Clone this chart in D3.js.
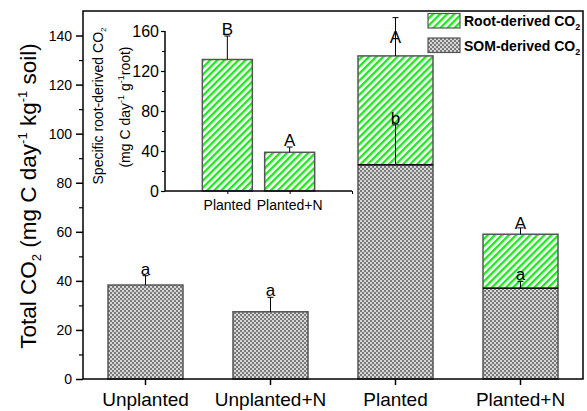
<!DOCTYPE html>
<html><head><meta charset="utf-8">
<script src="https://cdn.jsdelivr.net/npm/d3@7"></script>
<style>body{margin:0;background:#fff}svg{display:block}text{font-family:"Liberation Sans",Arial,sans-serif;fill:#000}</style>
</head><body><svg id="c" width="587" height="411"></svg>
<script>
// ---- main chart data ----
const categories = ["Unplanted", "Unplanted+N", "Planted", "Planted+N"];
const somValues = [38.3, 27.4, 87.3, 37.0];
const somErrors = [3.8, 5.9, 16.3, 2.8];
const rootValues = [0, 0, 44.4, 22.0];
const totalErrors = [0, 0, 15.6, 2.6];
const somLetters = ["a", "a", "b", "a"];
const rootLetters = ["", "", "A", "A"];
const rootLetterAt = [0, 0, 137, 61.3];
const yTicks = [0, 20, 40, 60, 80, 100, 120, 140];
// ---- inset data ----
const insetCategories = ["Planted", "Planted+N"];
const insetValues = [131.5, 38.7];
const insetErrors = [23.5, 5.3];
const insetLetters = ["B", "A"];
const insetTicks = [0, 40, 80, 120, 160];

const svg = d3.select("#c");
const defs = svg.append("defs");
const hp = defs.append("pattern").attr("id", "hatch").attr("patternUnits", "userSpaceOnUse")
  .attr("width", 5).attr("height", 5).attr("patternTransform", "rotate(45)");
hp.append("rect").attr("width", 5).attr("height", 5).attr("fill", "#fff");
hp.append("rect").attr("x", 0).attr("width", 2.4).attr("height", 5).attr("fill", "#1ee81e");
const sp = defs.append("pattern").attr("id", "som").attr("patternUnits", "userSpaceOnUse")
  .attr("width", 4).attr("height", 4);
sp.append("rect").attr("width", 4).attr("height", 4).attr("fill", "#7a7a7a");
[[1, 1], [3, 3]].forEach(([cx, cy]) => {
  sp.append("rect").attr("x", cx - 1).attr("y", cy - 0.45).attr("width", 2).attr("height", 0.9).attr("fill", "#fff");
  sp.append("rect").attr("x", cx - 0.45).attr("y", cy - 1).attr("width", 0.9).attr("height", 2).attr("fill", "#fff");
});

const L = 83, R = 583, T = 11, B = 379;
const x = d3.scaleBand().domain(categories).range([L, R]).paddingInner(0.4).paddingOuter(0.2);
const y = d3.scaleLinear().domain([0, 150]).range([B, T]);

// bars
const g = svg.append("g");
categories.forEach((c, i) => {
  const x0 = x(c), w = x.bandwidth();
  g.append("rect").attr("x", x0).attr("y", y(somValues[i])).attr("width", w)
    .attr("height", y(0) - y(somValues[i])).attr("fill", "url(#som)").attr("stroke", "#555").attr("stroke-width", 1.5);
  if (rootValues[i] > 0) {
    const top = somValues[i] + rootValues[i];
    g.append("rect").attr("x", x0).attr("y", y(top)).attr("width", w)
      .attr("height", y(somValues[i]) - y(top)).attr("fill", "url(#hatch)").attr("stroke", "#555").attr("stroke-width", 1.5);
    g.append("line").attr("x1", x0).attr("x2", x0 + w).attr("y1", y(somValues[i])).attr("y2", y(somValues[i]))
      .attr("stroke", "#111").attr("stroke-width", 1.5);
  }
});
// error bars + letters
function errBar(gg, cx, v0, v1, ys) {
  gg.append("line").attr("x1", cx).attr("x2", cx).attr("y1", ys(v0)).attr("y2", ys(v1)).attr("stroke", "#000").attr("stroke-width", 1);
  gg.append("line").attr("x1", cx - 3).attr("x2", cx + 3).attr("y1", ys(v1)).attr("y2", ys(v1)).attr("stroke", "#000").attr("stroke-width", 1);
}
categories.forEach((c, i) => {
  const cx = x(c) + x.bandwidth() / 2;
  errBar(g, cx, somValues[i], somValues[i] + somErrors[i], y);
  g.append("text").attr("x", cx).attr("y", y(somValues[i] + somErrors[i]) - 1).attr("text-anchor", "middle")
    .attr("font-size", 17).text(somLetters[i]);
  if (rootValues[i] > 0) {
    const top = somValues[i] + rootValues[i];
    errBar(g, cx, top, top + totalErrors[i], y);
    g.append("text").attr("x", cx).attr("y", y(rootLetterAt[i])).attr("text-anchor", "middle")
      .attr("font-size", 17).text(rootLetters[i]);
  }
});

// frame
svg.append("rect").attr("x", L).attr("y", T).attr("width", R - L).attr("height", B - T)
  .attr("fill", "none").attr("stroke", "#000").attr("stroke-width", 1.5);
// y axis
const ya = svg.append("g").attr("transform", `translate(${L},0)`)
  .call(d3.axisLeft(y).tickValues(yTicks).tickSize(7).tickPadding(4));
ya.select(".domain").remove();
ya.selectAll("line").attr("stroke-width", 1.5);
ya.selectAll("text").attr("font-size", 14).attr("font-family", "Liberation Sans, Arial, sans-serif");
const yMinor = svg.append("g").attr("transform", `translate(${L},0)`)
  .call(d3.axisLeft(y).tickValues(d3.range(10, 150, 20)).tickSize(4).tickFormat(""));
yMinor.select(".domain").remove();
yMinor.selectAll("line").attr("stroke-width", 1.2);
// x axis
const xa = svg.append("g").attr("transform", `translate(0,${B})`)
  .call(d3.axisBottom(x).tickSize(6).tickPadding(6));
xa.select(".domain").remove();
xa.selectAll("line").attr("stroke-width", 1.5);
xa.selectAll("text").attr("font-size", 19).attr("dy", "14.5px").attr("font-family", "Liberation Sans, Arial, sans-serif");

// y title
const yt = svg.append("text").attr("transform", "translate(36,196) rotate(-90)").attr("text-anchor", "middle").attr("font-size", 22.5);
yt.append("tspan").text("Total CO");
yt.append("tspan").attr("font-size", 13).attr("dy", 5).text("2");
yt.append("tspan").attr("dy", -5).text(" (mg C day");
yt.append("tspan").attr("font-size", 13).attr("dy", -9).text("-1");
yt.append("tspan").attr("dy", 9).text(" kg");
yt.append("tspan").attr("font-size", 13).attr("dy", -9).text("-1");
yt.append("tspan").attr("dy", 9).text(" soil)");

// legend
const leg = [["Root-derived CO", "url(#hatch)"], ["SOM-derived CO", "url(#som)"]];
leg.forEach(([t, f], i) => {
  const yy = 13.5 + i * 24.5;
  svg.append("rect").attr("x", 428).attr("y", yy).attr("width", 32).attr("height", 14.5).attr("fill", f).attr("stroke", "#555").attr("stroke-width", 1.2);
  const tx = svg.append("text").attr("x", 464).attr("y", yy + 12.5).attr("font-size", 14).attr("font-weight", "bold");
  tx.append("tspan").text(t);
  tx.append("tspan").attr("font-size", 9).attr("dy", 4).text("2");
});

// ---- inset ----
const iL = 165, iR = 352, iT = 31, iB = 191;
const ix = d3.scaleLinear().domain([0, 3]).range([iL, iR]);
const iy = d3.scaleLinear().domain([0, 160]).range([iB, iT]);
const ig = svg.append("g");
insetCategories.forEach((c, i) => {
  const cx = ix(i + 1), w = 50;
  ig.append("rect").attr("x", cx - w / 2).attr("y", iy(insetValues[i])).attr("width", w)
    .attr("height", iy(0) - iy(insetValues[i])).attr("fill", "url(#hatch)").attr("stroke", "#555").attr("stroke-width", 1.5);
  errBar(ig, cx, insetValues[i], insetValues[i] + insetErrors[i], iy);
  ig.append("text").attr("x", cx).attr("y", iy(insetValues[i] + insetErrors[i]) - 1).attr("text-anchor", "middle")
    .attr("font-size", 17).text(insetLetters[i]);
});
const iya = svg.append("g").attr("transform", `translate(${iL},0)`)
  .call(d3.axisLeft(iy).tickValues(insetTicks).tickSize(4).tickPadding(2));
iya.select(".domain").attr("stroke-width", 1.5).attr("d", `M0,${iT}V${iB}`);
iya.selectAll("line").attr("stroke-width", 1.2);
iya.selectAll("text").attr("font-size", 16).attr("font-family", "Liberation Sans, Arial, sans-serif");
const iyMinor = svg.append("g").attr("transform", `translate(${iL},0)`)
  .call(d3.axisLeft(iy).tickValues([20, 60, 100, 140]).tickSize(3).tickFormat(""));
iyMinor.select(".domain").remove();
const ixa = svg.append("g").attr("transform", `translate(0,${iB})`)
  .call(d3.axisBottom(ix).tickValues([1, 2, 3]).tickSize(3).tickFormat(""));
ixa.select(".domain").attr("stroke-width", 1.5).attr("d", `M${iL},0H${iR}`);
insetCategories.forEach((c, i) => {
  svg.append("text").attr("x", ix(i + 1)).attr("y", 210).attr("text-anchor", "middle").attr("font-size", 14).text(c);
});
// inset y title
const t1 = svg.append("text").attr("transform", "translate(103,106) rotate(-90)").attr("text-anchor", "middle").attr("font-size", 14);
t1.append("tspan").text("Specific root-derived CO");
t1.append("tspan").attr("font-size", 8).attr("dy", 3).text("2");
const t2 = svg.append("text").attr("transform", "translate(130,107) rotate(-90)").attr("text-anchor", "middle").attr("font-size", 14);
t2.append("tspan").text("(mg C day");
t2.append("tspan").attr("font-size", 9).attr("dy", -6).text("-1");
t2.append("tspan").attr("dy", 6).text(" g");
t2.append("tspan").attr("font-size", 9).attr("dy", -6).text("-1");
t2.append("tspan").attr("dy", 6).text("root)");
</script></body></html>
